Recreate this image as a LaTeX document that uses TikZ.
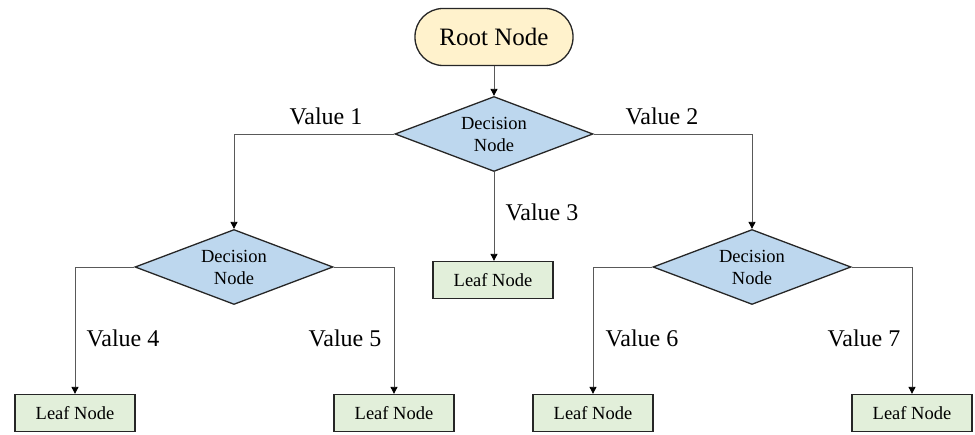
\documentclass[tikz,border=0pt]{standalone}
\usepackage{fontspec}
\setmainfont{Liberation Serif}
\usetikzlibrary{shapes.geometric,arrows.meta}
\definecolor{rootfill}{HTML}{FFF2CC}
\definecolor{decfill}{HTML}{BDD7EE}
\definecolor{leaffill}{HTML}{E2EFDA}
\definecolor{edge}{HTML}{262626}
\definecolor{conn}{HTML}{595959}
\tikzset{
  rootbox/.style={draw=edge, line width=1.3pt, fill=rootfill, rounded corners=28pt,
    minimum width=158pt, minimum height=57pt, inner sep=0pt, font=\fontsize{25}{28}\selectfont},
  decbox/.style={draw=edge, line width=1.3pt, fill=decfill, diamond, shape aspect=2.64,
    minimum width=198pt, minimum height=75pt, inner sep=0pt, align=center,
    font=\fontsize{18.5}{22}\selectfont},
  leafbox/.style={draw=edge, line width=1.3pt, fill=leaffill,
    minimum width=120pt, minimum height=37pt, inner sep=0pt, font=\fontsize{18.5}{22}\selectfont},
  vlabel/.style={font=\fontsize{24}{28}\selectfont, inner sep=0pt},
  conline/.style={draw=conn, line width=0.9pt, -{Triangle[length=7pt,width=7pt,color=black]}}
}
\begin{document}
\begin{tikzpicture}[x=1pt,y=-1pt]
\useasboundingbox (0,0) rectangle (975,435);
\node[rootbox] (root) at (494,37) {Root Node};
\node[decbox] (d1) at (494,134) {Decision\\Node};
\node[decbox] (d2) at (234,267) {Decision\\Node};
\node[decbox] (d3) at (752,267) {Decision\\Node};
\node[leafbox] (l3) at (493,280) {Leaf Node};
\node[leafbox] (l4) at (75,413) {Leaf Node};
\node[leafbox] (l5) at (394,413) {Leaf Node};
\node[leafbox] (l6) at (593,413) {Leaf Node};
\node[leafbox] (l7) at (912,413) {Leaf Node};

\draw[conline] (root.south) -- (d1.north);
\draw[conline] (d1.west) -| (d2.north);
\draw[conline] (d1.east) -| (d3.north);
\draw[conline] (d1.south) -- (d1.south |- l3.north);
\draw[conline] (d2.west) -| (l4.north);
\draw[conline] (d2.east) -| (l5.north);
\draw[conline] (d3.west) -| (l6.north);
\draw[conline] (d3.east) -| (l7.north);

\node[vlabel] (v1) at (326,116) {Value 1};
\node[vlabel] (v2) at (662,116) {Value 2};
\node[vlabel] (v3) at (542,212) {Value 3};
\node[vlabel] (v4) at (123,338) {Value 4};
\node[vlabel] (v5) at (345,338) {Value 5};
\node[vlabel] (v6) at (642,338) {Value 6};
\node[vlabel] (v7) at (864,338) {Value 7};
\end{tikzpicture}
\end{document}
